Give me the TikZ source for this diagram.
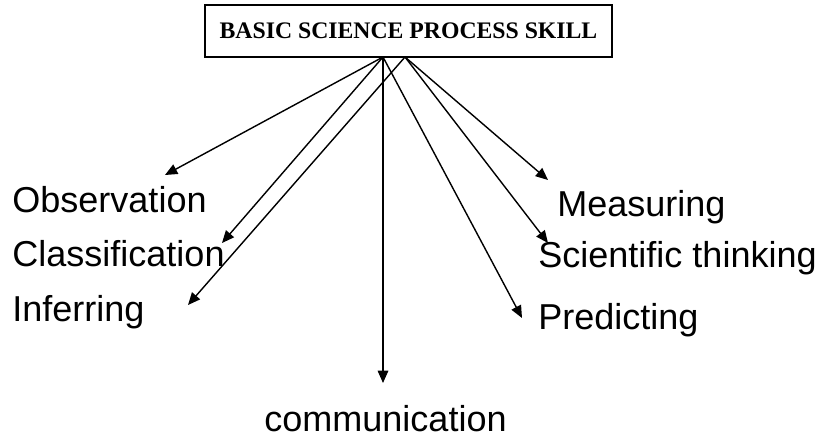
\documentclass[tikz,border=0pt]{standalone}
\usepackage{fontspec}
\setmainfont{Liberation Serif}
\newfontfamily\labelfont{Liberation Sans}
\usetikzlibrary{arrows.meta, positioning, calc}

\begin{document}
\begin{tikzpicture}[
    skillbox/.style={draw, line width=0.8pt, minimum width=8.14cm, minimum height=1.04cm,
      font=\fontsize{13.5}{16}\selectfont\bfseries},
    skilllabel/.style={anchor=base west, inner sep=0pt, font=\labelfont\fontsize{20.5}{24}\selectfont},
    branch/.style={line width=0.8pt, -{Triangle[length=7pt, width=6pt]}}
  ]
  \useasboundingbox (0, 0) rectangle (16.66, -8.94);

  % Main box
  \node[skillbox] (skill) at (8.17, -0.62) {BASIC SCIENCE PROCESS SKILL};

  % Start points on the lower edge
  \coordinate (oL) at (7.66, -1.14);
  \coordinate (oR) at (8.10, -1.14);

  % Skills
  \node[skilllabel] (obs) at (0.24, -4.24) {Observation};
  \node[skilllabel] (cls) at (0.24, -5.32) {Classification};
  \node[skilllabel] (inf) at (0.24, -6.42) {Inferring};
  \node[skilllabel] (com) at (5.28, -8.62) {communication};
  \node[skilllabel] (mea) at (11.14, -4.32) {Measuring};
  \node[skilllabel] (sci) at (10.76, -5.34) {Scientific thinking};
  \node[skilllabel] (pre) at (10.76, -6.58) {Predicting};

  % Arrow tips
  \coordinate (obs tip) at (3.30, -3.50);
  \coordinate (cls tip) at (4.44, -4.86);
  \coordinate (inf tip) at (3.76, -6.10);
  \coordinate (com tip) at (7.66, -7.66);
  \coordinate (mea tip) at (10.96, -3.60);
  \coordinate (sci tip) at (10.96, -4.86);
  \coordinate (pre tip) at (10.44, -6.36);

  \draw[branch] (oL) -- (obs tip);
  \draw[branch] (oL) -- (cls tip);
  \draw[branch] (oR) -- (inf tip);
  \draw[branch] (oL) -- (com tip);
  \draw[branch] (oR) -- (mea tip);
  \draw[branch] (oR) -- (sci tip);
  \draw[branch] (oL) -- (pre tip);
\end{tikzpicture}
\end{document}
